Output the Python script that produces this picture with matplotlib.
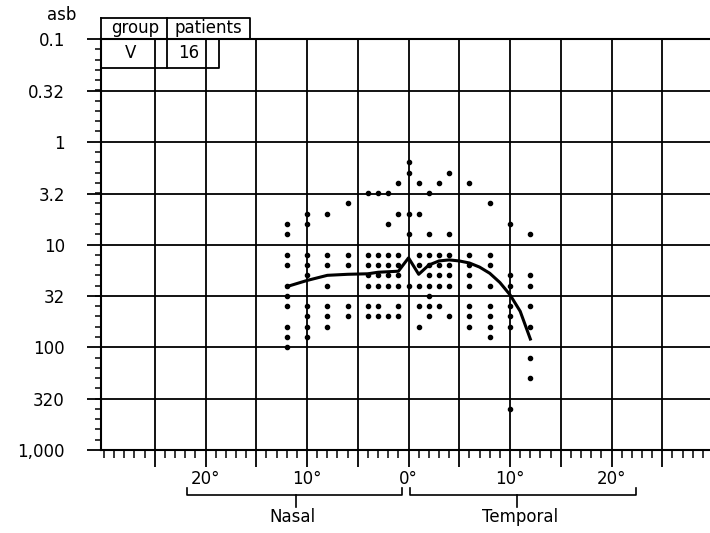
import numpy as np
import matplotlib
matplotlib.use('Agg')
import matplotlib.pyplot as plt

# test locations in degrees (nasal negative) and the log10 asb levels of the dots in each column
columns = [-12, -10, -8, -6, -4, -3, -2, -1, 0, 1, 2, 3, 4, 6, 8, 10, 12]
levels = [
    [0.8, 0.9, 1.1, 1.2, 1.4, 1.5, 1.6, 1.8, 1.9, 2.0],
    [0.7, 0.8, 1.1, 1.2, 1.3, 1.6, 1.7, 1.8, 1.9],
    [0.7, 1.1, 1.2, 1.4, 1.6, 1.7, 1.8],
    [0.6, 1.1, 1.2, 1.6, 1.7],
    [0.5, 1.1, 1.2, 1.3, 1.4, 1.6, 1.7],
    [0.5, 1.1, 1.2, 1.3, 1.4, 1.6, 1.7],
    [0.5, 0.8, 1.1, 1.2, 1.3, 1.4, 1.7],
    [0.4, 0.7, 1.1, 1.2, 1.3, 1.4, 1.6, 1.7],
    [0.2, 0.3, 0.7, 0.9, 1.4],
    [0.4, 0.7, 1.1, 1.2, 1.4, 1.6, 1.8],
    [0.5, 0.9, 1.1, 1.2, 1.3, 1.4, 1.5, 1.6, 1.7],
    [0.4, 1.1, 1.2, 1.3, 1.4, 1.6],
    [0.3, 0.9, 1.1, 1.2, 1.3, 1.4, 1.7],
    [0.4, 1.1, 1.2, 1.3, 1.4, 1.6, 1.7, 1.8],
    [0.6, 1.1, 1.2, 1.4, 1.6, 1.7, 1.8, 1.9],
    [0.8, 1.3, 1.4, 1.6, 1.7, 1.8, 2.6],
    [0.9, 1.3, 1.4, 1.6, 1.8, 2.1, 2.3],
]

# mean profile
curve_deg = [-12, -10, -8, -6, -4, -3, -1, 0, 1, 2, 3, 4, 5, 6, 7, 8, 9, 10, 11, 12]
curve_log = [1.41, 1.35, 1.30, 1.29, 1.285, 1.27, 1.26, 1.13, 1.29, 1.20, 1.16, 1.15,
             1.16, 1.18, 1.22, 1.28, 1.37, 1.49, 1.65, 1.92]

y_ticks = [0.1, 0.32, 1, 3.2, 10, 32, 100, 320, 1000]
y_labels = ['0.1', '0.32', '1', '3.2', '10', '32', '100', '320', '1,000']
x_label_pos = [-20, -10, 0, 10, 20]
x_labels = ['20°', '10°', '0°', '10°', '20°']
table_head = ['group', 'patients']
table_row = ['V', '16']

plt.rcParams['font.family'] = ['DejaVu Sans']
plt.rcParams['font.size'] = 12

fig = plt.figure(figsize=(7.1, 5.33), dpi=100)
ax = fig.add_axes([101 / 710, 1 - 450 / 533, 609 / 710, 411 / 533])

ax.set_yscale('log')
ax.set_xlim(-30.3, 29.7)
ax.set_ylim(1000, 0.1)

# dots
dx, dy = [], []
for c, lv in zip(columns, levels):
    for v in lv:
        dx.append(c)
        dy.append(10 ** v)
ax.plot(dx, dy, 'o', ms=3.0, color='black', ls='none', zorder=3)

# curve
ax.plot(curve_deg, 10 ** np.array(curve_log), color='black', lw=2.2,
        solid_joinstyle='round', zorder=4)

# ticks and grid
ax.set_xticks(np.arange(-25, 26, 5))
ax.set_xticks(np.arange(-30, 30, 1), minor=True)
ax.set_xticklabels([])
ax.set_yticks(y_ticks)
ax.set_yticklabels(y_labels)
minor_y = [10 ** v for v in np.arange(-1, 3.001, 0.1)]
ax.set_yticks(minor_y, minor=True)
ax.yaxis.set_minor_formatter(matplotlib.ticker.NullFormatter())

ax.tick_params(axis='x', which='major', direction='out', length=12, width=1.3)
ax.tick_params(axis='x', which='minor', direction='out', length=6, width=1.1)
ax.tick_params(axis='y', which='major', direction='out', length=10, width=1.3, pad=16)
ax.tick_params(axis='y', which='minor', direction='out', length=4, width=1.1)

ax.grid(True, which='major', color='black', lw=1.3)
for s in ['left', 'bottom', 'top']:
    ax.spines[s].set_linewidth(1.5)
ax.spines['right'].set_visible(False)

tr = ax.get_xaxis_transform()

# x labels and nasal / temporal brackets
for p, t in zip(x_label_pos, x_labels):
    ax.text(p, -0.07, t, transform=tr, ha='center', va='center', fontsize=12)

yb, yu, yd = -0.1095, -0.092, -0.139
for a, b, m in [(-21.8, -0.6, -11.1), (0.1, 22.4, 10.65)]:
    ax.plot([a, a, b, b], [yu, yb, yb, yu], color='black', lw=1.2, transform=tr, clip_on=False)
    ax.plot([m, m], [yb, yd], color='black', lw=1.2, transform=tr, clip_on=False)
ax.text(-11.4, -0.163, 'Nasal', transform=tr, ha='center', va='center', fontsize=12)
ax.text(11.0, -0.163, 'Temporal', transform=tr, ha='center', va='center', fontsize=12)

# group / patients box
x0, x1, x2, x3 = -30.3, -23.8, -18.7, -15.65
yt, ym, ybt = 1.051, 1.0, 0.9294
box = dict(color='black', lw=1.3, transform=tr, clip_on=False)
ax.plot([x0, x3, x3], [yt, yt, ym], **box)
ax.plot([x0, x0], [yt, ybt], **box)
ax.plot([x1, x1], [yt, ybt], **box)
ax.plot([x0, x2, x2], [ybt, ybt, ym], **box)
ax.text(-26.95, 1.027, table_head[0], transform=tr, ha='center', va='center', fontsize=12)
ax.text(-19.7, 1.027, table_head[1], transform=tr, ha='center', va='center', fontsize=12)
ax.text(-27.4, 0.966, table_row[0], transform=tr, ha='center', va='center', fontsize=12)
ax.text(-21.7, 0.966, table_row[1], transform=tr, ha='center', va='center', fontsize=12)

fig.text(62 / 710, 1 - 15 / 533, 'asb', ha='center', va='center', fontsize=12)

fig.savefig('out.png', dpi=100)
